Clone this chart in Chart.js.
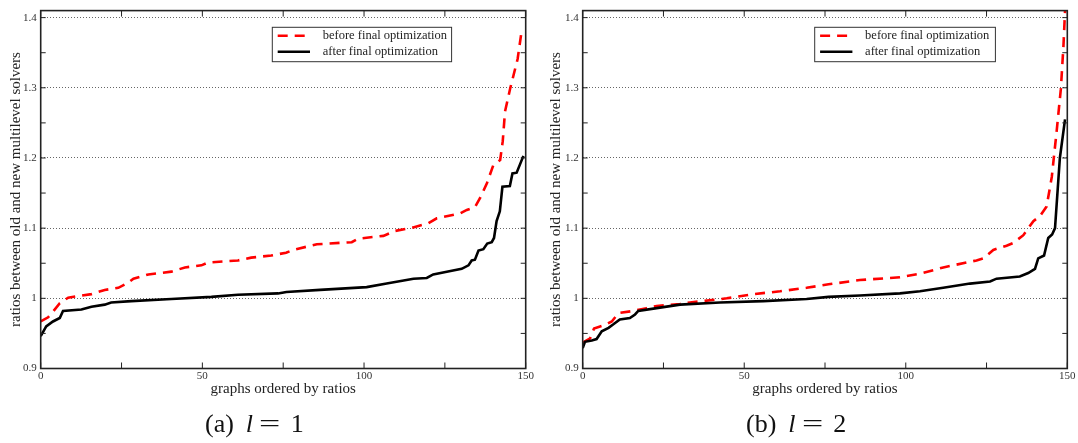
<!DOCTYPE html>
<html lang="en">
<head>
<meta charset="UTF-8">
<title>ratios between old and new multilevel solvers</title>
<script src="https://cdn.jsdelivr.net/npm/chart.js@4.4.0/dist/chart.umd.min.js"></script>
<style>
    body { margin: 0; background: #fff; }
    .wrap { position: relative; width: 1078px; height: 443px; overflow: hidden; }
    canvas { position: absolute; top: 0; }
    .caption { position: absolute; top: 411px; font: 26px "Liberation Serif", serif; line-height: 26px; color: #111; white-space: nowrap; }
    .caption i { margin-left: 12px; }
    .caption .eq { display: inline-block; margin-left: 6px; transform: scaleX(1.45); transform-origin: left center; }
    .caption .num { margin-left: 17px; }
</style>
</head>
<body>
<div class="wrap">
    <canvas id="chartA" width="540" height="443" style="left:0"></canvas>
    <canvas id="chartB" width="538" height="443" style="left:540px"></canvas>
    <div class="caption" style="left:205px">(a)<i>l</i><span class="eq">=</span><span class="num">1</span></div>
    <div class="caption" style="left:746px">(b)<i>l</i><span class="eq">=</span><span class="num">2</span></div>
</div>

<script>
    // values (x = graph index, y = ratio)
    const leftBeforeX = [0, 2.3, 3.8, 5.9, 8.5, 12.6, 15.7, 19.8, 24, 26.6, 28.7, 33.3, 40.4, 44.6, 49.7, 51.7, 61, 65.1, 71.3, 75.9, 78.1, 85.4, 96.2, 98.2, 106, 109.6, 115.2, 119.9, 122.5, 129.7, 131.8, 134.3, 135.9, 138, 140, 142.1, 142.9, 143.6, 145.2, 147.5, 148.8];
    const leftBeforeY = [0.967, 0.973, 0.981, 0.993, 1.001, 1.004, 1.006, 1.012, 1.015, 1.021, 1.028, 1.034, 1.038, 1.044, 1.047, 1.051, 1.054, 1.058, 1.061, 1.065, 1.069, 1.077, 1.080, 1.085, 1.089, 1.096, 1.101, 1.107, 1.114, 1.121, 1.126, 1.130, 1.143, 1.164, 1.190, 1.197, 1.224, 1.266, 1.299, 1.341, 1.383];
    const leftAfterX = [0, 1.7, 3.8, 5.9, 6.9, 12.6, 15.7, 19.8, 21.8, 28, 40.4, 52.8, 61, 73.4, 76, 86.4, 100.8, 107, 115.3, 119.4, 121.4, 125.6, 130.2, 132.3, 133.3, 134.3, 135.4, 136.9, 138.1, 139.5, 140.2, 141, 142, 142.8, 145.1, 145.9, 147.2, 149.3];
    const leftAfterY = [0.946, 0.960, 0.967, 0.972, 0.982, 0.984, 0.988, 0.991, 0.994, 0.996, 0.999, 1.002, 1.005, 1.007, 1.009, 1.012, 1.016, 1.021, 1.028, 1.029, 1.034, 1.038, 1.042, 1.047, 1.054, 1.055, 1.068, 1.070, 1.078, 1.080, 1.086, 1.110, 1.124, 1.159, 1.160, 1.178, 1.179, 1.203];

    const rightBeforeX = [0, 2.3, 3.5, 6.9, 9, 11.1, 15.7, 19.8, 22.9, 30.1, 33.2, 44.6, 52.9, 61.1, 69.3, 76.1, 85.8, 98.2, 104.4, 111.6, 121.9, 124, 127.1, 131.2, 133.3, 136.4, 139.5, 141.5, 143.6, 145.2, 146.7, 148, 148.8, 149.5];
    const rightBeforeY = [0.937, 0.943, 0.957, 0.962, 0.967, 0.979, 0.982, 0.986, 0.989, 0.992, 0.994, 1.000, 1.006, 1.010, 1.015, 1.020, 1.026, 1.030, 1.035, 1.044, 1.054, 1.057, 1.069, 1.075, 1.079, 1.090, 1.110, 1.117, 1.131, 1.173, 1.238, 1.298, 1.359, 1.43];
    const rightAfterX = [0, 0.7, 2.8, 4.3, 5.9, 8, 9.5, 11.5, 14.6, 16.2, 17.2, 22.9, 30.1, 42.5, 55.9, 69.3, 76.1, 85.8, 98.2, 104.4, 111.6, 119.9, 126.1, 128.1, 135.3, 137.9, 140, 141, 142.8, 144.1, 145.3, 146.2, 147.7, 149.3];
    const rightAfterY = [0.929, 0.938, 0.940, 0.942, 0.953, 0.958, 0.963, 0.970, 0.972, 0.977, 0.982, 0.986, 0.991, 0.994, 0.996, 0.999, 1.002, 1.004, 1.007, 1.010, 1.015, 1.021, 1.024, 1.028, 1.031, 1.036, 1.042, 1.057, 1.061, 1.086, 1.091, 1.100, 1.200, 1.255];

    const seriesNames = ['before final optimization', 'after final optimization'];
    const xTicks = [0, 50, 100, 150];
    const xMinorTicks = [0, 25, 50, 75, 100, 125, 150];
    const yTicks = [0.9, 1.0, 1.1, 1.2, 1.3, 1.4];
    const yTickText = ['0.9', '1', '1.1', '1.2', '1.3', '1.4'];
    const yMinorTicks = [0.9, 0.95, 1.0, 1.05, 1.1, 1.15, 1.2, 1.25, 1.3, 1.35, 1.4];

    const serif = 'Liberation Serif';

    function toPoints(xs, ys) {
        return xs.map((x, i) => ({ x: x, y: ys[i] }));
    }

    // frame, inward ticks and the boxed legend inside the plot
    const framePlugin = {
        id: 'frame',
        afterDraw(chart, args, opts) {
            const { ctx, chartArea: a, scales: { x, y } } = chart;
            ctx.save();
            ctx.strokeStyle = '#222';
            ctx.lineWidth = 1;
            ctx.beginPath();
            xMinorTicks.forEach(v => {
                const px = x.getPixelForValue(v);
                ctx.moveTo(px, a.bottom); ctx.lineTo(px, a.bottom - 6);
                ctx.moveTo(px, a.top); ctx.lineTo(px, a.top + 6);
            });
            yMinorTicks.forEach(v => {
                const py = y.getPixelForValue(v);
                ctx.moveTo(a.left, py); ctx.lineTo(a.left + 5, py);
                ctx.moveTo(a.right, py); ctx.lineTo(a.right - 5, py);
            });
            ctx.stroke();
            ctx.lineWidth = 1.6;
            ctx.strokeRect(a.left, a.top, a.right - a.left, a.bottom - a.top);

            // legend box
            const bx = a.left + opts.boxX, by = 27.3;
            ctx.fillStyle = '#fff';
            ctx.fillRect(bx, by, opts.boxW, 34.4);
            ctx.lineWidth = 1;
            ctx.strokeStyle = '#333';
            ctx.strokeRect(bx, by, opts.boxW, 34.4);
            ctx.font = '12.5px "' + serif + '"';
            ctx.textBaseline = 'middle';
            ctx.textAlign = 'left';
            [[0, 35.7], [1, 51.7]].forEach(([i, ly]) => {
                const ds = chart.data.datasets[i];
                ctx.strokeStyle = ds.borderColor;
                ctx.lineWidth = ds.borderWidth;
                ctx.setLineDash(ds.borderDash || []);
                ctx.beginPath();
                ctx.moveTo(bx + 5.4, ly);
                ctx.lineTo(bx + 37.7, ly);
                ctx.stroke();
                ctx.setLineDash([]);
                ctx.fillStyle = '#222';
                ctx.fillText(ds.label, bx + 50.4, ly);
            });
            ctx.restore();
        }
    };

    function makePanel(id, beforePts, afterPts, axisWidth, rightPad, boxX, boxW) {
        return new Chart(document.getElementById(id), {
            type: 'line',
            data: {
                datasets: [{
                    label: seriesNames[0],
                    data: beforePts,
                    borderColor: '#ff0000',
                    borderWidth: 2.6,
                    borderDash: [10, 7],
                    pointRadius: 0,
                    tension: 0,
                    clip: 0,
                    order: 1
                }, {
                    label: seriesNames[1],
                    data: afterPts,
                    borderColor: '#000000',
                    borderWidth: 2.6,
                    pointRadius: 0,
                    tension: 0,
                    clip: 0,
                    order: 0
                }]
            },
            options: {
                responsive: false,
                animation: false,
                devicePixelRatio: 1,
                layout: { autoPadding: false, padding: { left: 0, right: rightPad, top: 4, bottom: 0 } },
                plugins: {
                    legend: { display: false },
                    tooltip: { enabled: false },
                    frame: { boxX: boxX, boxW: boxW }
                },
                scales: {
                    x: {
                        type: 'linear',
                        min: 0,
                        max: 150,
                        afterBuildTicks: s => { s.ticks = xTicks.map(v => ({ value: v })); },
                        afterFit: s => { s.height = 74.5; },
                        grid: { display: false, drawTicks: false },
                        border: { display: false },
                        ticks: {
                            padding: 1,
                            color: '#333',
                            maxRotation: 0,
                            font: { family: serif, size: 11 }
                        },
                        title: {
                            display: true,
                            text: 'graphs ordered by ratios',
                            color: '#222',
                            font: { family: serif, size: 15 },
                            padding: { top: 0, bottom: 45 }
                        }
                    },
                    y: {
                        min: 0.9,
                        max: 1.41,
                        afterBuildTicks: s => { s.ticks = yTicks.map(v => ({ value: v })); },
                        afterFit: s => { s.width = axisWidth; },
                        grid: {
                            drawTicks: false,
                            lineWidth: 1,
                            color: c => (c.tick && c.tick.value > 0.95) ? 'rgba(0,0,0,0.6)' : 'rgba(0,0,0,0)'
                        },
                        border: { display: false, dash: [1, 2] },
                        ticks: {
                            padding: 4,
                            color: '#333',
                            font: { family: serif, size: 11 },
                            callback: (v, i) => yTickText[i]
                        },
                        title: {
                            display: true,
                            text: 'ratios between old and new multilevel solvers',
                            color: '#222',
                            font: { family: serif, size: 15 },
                            padding: { top: 7, bottom: 0 }
                        }
                    }
                }
            },
            plugins: [framePlugin]
        });
    }

    makePanel('chartA', toPoints(leftBeforeX, leftBeforeY), toPoints(leftAfterX, leftAfterY), 40.7, 14.3, 231.6, 179.3);
    makePanel('chartB', toPoints(rightBeforeX, rightBeforeY), toPoints(rightAfterX, rightAfterY), 42.7, 10.7, 232, 180.7);
</script>
</body>
</html>
